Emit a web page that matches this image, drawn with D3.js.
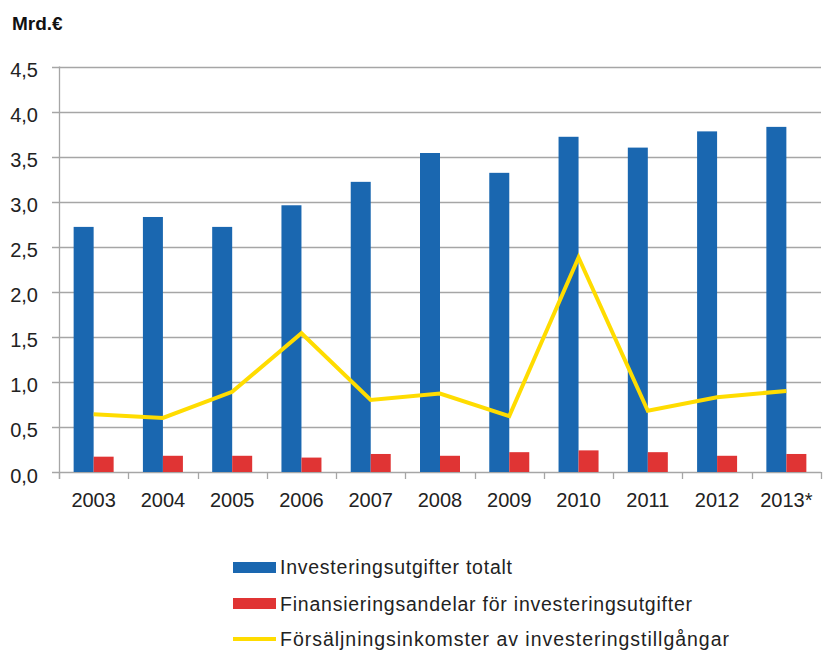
<!DOCTYPE html>
<html><head><meta charset="utf-8">
<script src="https://cdn.jsdelivr.net/npm/d3@7"></script>
<style>body{margin:0;background:#fff}svg{display:block;font-family:"Liberation Sans",Arial,sans-serif}</style>
</head><body><svg id="c" width="823" height="652"></svg>
<script>
const years = ["2003","2004","2005","2006","2007","2008","2009","2010","2011","2012","2013*"];
const totalt = [2.72,2.83,2.72,2.96,3.22,3.54,3.32,3.72,3.60,3.78,3.83];
const finans = [0.17,0.18,0.18,0.16,0.20,0.18,0.22,0.24,0.22,0.18,0.20];
const forsalj = [0.64,0.60,0.89,1.54,0.80,0.87,0.62,2.38,0.68,0.83,0.90];
const yTicks = [0,0.5,1,1.5,2,2.5,3,3.5,4,4.5];
const seriesNames = ["Investeringsutgifter totalt","Finansieringsandelar för investeringsutgifter","Försäljningsinkomster av investeringstillgångar"];
const colors = ["#1a67b0","#e03434","#ffdc00"];

const svg = d3.select("#c");
const L = 59, R = 821, T = 66.5, B = 472;
const x = d3.scaleBand().domain(years).range([L,R]).paddingInner(0).paddingOuter(0);
const y = d3.scaleLinear().domain([0,4.5]).range([B,T]);
const fmt = d => d3.format(".1f")(d).replace(".",",");

// grid
svg.append("g").selectAll("line").data(yTicks).join("line")
  .attr("x1",52).attr("x2",R).attr("y1",d=>Math.round(y(d))+0.5).attr("y2",d=>Math.round(y(d))+0.5)
  .attr("stroke","#a6a6a6").attr("stroke-width",1.3);
// y axis line
svg.append("line").attr("x1",L+0.5).attr("x2",L+0.5).attr("y1",T).attr("y2",B+7).attr("stroke","#a6a6a6").attr("stroke-width",1.3);
// x ticks
const xt = years.map((d,i)=>x.range()[0]+i*x.bandwidth()).concat([R]);
svg.append("g").selectAll("line").data(xt).join("line")
  .attr("x1",d=>Math.round(d)+0.5).attr("x2",d=>Math.round(d)+0.5).attr("y1",B).attr("y2",B+7)
  .attr("stroke","#a6a6a6").attr("stroke-width",1.3);
// y labels
svg.append("g").selectAll("text").data(yTicks).join("text")
  .attr("x",38).attr("y",d=>y(d)+10.5).attr("text-anchor","end")
  .attr("font-size",20).attr("fill","#222").text(fmt);
// x labels
svg.append("g").selectAll("text").data(years).join("text")
  .attr("x",d=>x(d)+x.bandwidth()/2).attr("y",507).attr("text-anchor","middle")
  .attr("font-size",20).attr("fill","#222").text(d=>d);
// title
svg.append("text").attr("x",12).attr("y",30).attr("font-size",19).attr("font-weight","bold").attr("fill","#111").text("Mrd.€");

const bw = 20;
svg.append("g").selectAll("rect").data(years).join("rect")
  .attr("x",d=>x(d)+x.bandwidth()/2-bw).attr("width",bw)
  .attr("y",(d,i)=>y(totalt[i])).attr("height",(d,i)=>B-y(totalt[i])).attr("fill",colors[0]);
svg.append("g").selectAll("rect").data(years).join("rect")
  .attr("x",d=>x(d)+x.bandwidth()/2).attr("width",bw)
  .attr("y",(d,i)=>y(finans[i])).attr("height",(d,i)=>B-y(finans[i])).attr("fill",colors[1]);
svg.append("path").datum(forsalj)
  .attr("d",d3.line().x((d,i)=>x(years[i])+x.bandwidth()/2).y(d=>y(d)))
  .attr("fill","none").attr("stroke",colors[2]).attr("stroke-width",4).attr("stroke-linejoin","miter");

// legend
const lg = svg.append("g");
const rows = [567,603,639];
const base = [574,611,646];
const widths = [232,412,449];
seriesNames.forEach((n,i)=>{
  if(i<2) lg.append("rect").attr("x",233).attr("y",rows[i]-5).attr("width",43).attr("height",11).attr("fill",colors[i]);
  else lg.append("line").attr("x1",233).attr("x2",276).attr("y1",rows[i]).attr("y2",rows[i]).attr("stroke",colors[i]).attr("stroke-width",4);
  lg.append("text").attr("x",280).attr("y",base[i]).attr("font-size",19.5).attr("fill","#222")
    .attr("textLength",widths[i]).attr("lengthAdjust","spacing").text(n);
});
</script></body></html>
